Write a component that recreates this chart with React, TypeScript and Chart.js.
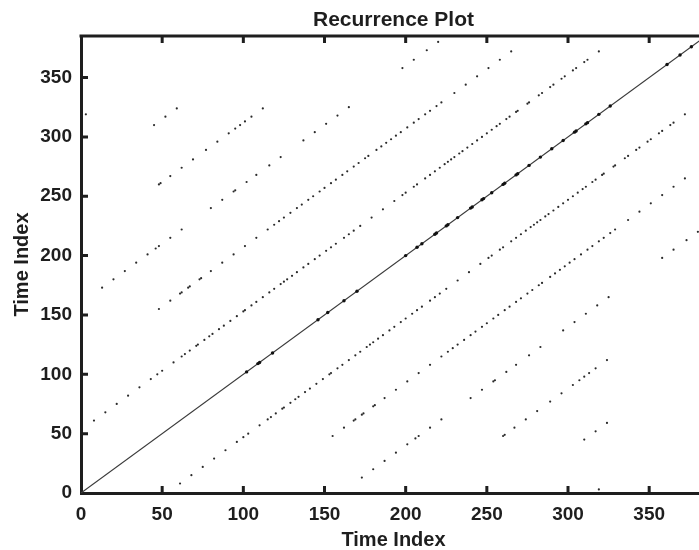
import React, { useEffect, useRef } from "react";
import { Chart, registerables } from "chart.js";

Chart.register(...registerables);

// ---- data ----
const TITLE = "Recurrence Plot";
const X_LABEL = "Time Index";
const Y_LABEL = "Time Index";
const X_TICKS = [0, 50, 100, 150, 200, 250, 300, 350];
const Y_TICKS = [0, 50, 100, 150, 200, 250, 300, 350];
const AXIS_MAX = 385;

// Lag (y - x) of each recurrence diagonal above the main one (the plot is symmetric)
const LAGS = [53, 107, 160, 212, 265, 316];

// Time indices (x) of recurrence points on each upper diagonal
const DIAG_53 = [8, 15, 22, 29, 36, 43, 47, 50, 57, 62, 64, 67, 71, 72, 76, 79, 81, 85, 88, 92, 96, 100, 101, 105, 108, 112, 116, 119, 123, 125, 127, 130, 133, 137, 140, 144, 147, 151, 154, 157, 162, 165, 168, 172, 179, 186, 193, 198, 200, 205, 207, 212, 215, 218, 221, 224, 226, 228, 230, 233, 235, 238, 241, 244, 247, 250, 253, 256, 258, 262, 264, 268, 269, 275, 276, 282, 284, 289, 291, 296, 298, 303, 305, 310, 312, 319];
const DIAG_107 = [48, 55, 61, 62, 66, 67, 73, 74, 80, 87, 94, 101, 108, 115, 119, 122, 125, 129, 133, 136, 140, 143, 147, 150, 154, 157, 161, 164, 168, 171, 175, 177, 182, 185, 188, 191, 194, 197, 201, 205, 208, 212, 215, 219, 222, 230, 237, 244, 251, 258, 265];
const DIAG_160 = [13, 20, 27, 34, 41, 46, 48, 55, 62, 80, 87, 94, 95, 102, 108, 116, 123, 137, 144, 151, 158, 165, 198, 205, 213, 220];
const DIAG_212 = [48, 49, 55, 62, 69, 77, 84, 91, 95, 98, 101, 105, 112];
const DIAG_265 = [45, 52, 59];
const DIAG_316 = [3];

// Recurrence points sitting on the main diagonal (drawn darker)
const MAIN_DOTS = [102, 109, 110, 118, 146, 152, 162, 170, 200, 207, 210, 218, 219, 225, 226, 232, 240, 241, 247, 248, 253, 260, 261, 268, 269, 276, 283, 290, 297, 304, 305, 311, 312, 319, 326, 361, 369, 376];

// Line of identity end points
const IDENTITY = [0, AXIS_MAX];

const DIAGS = [DIAG_53, DIAG_107, DIAG_160, DIAG_212, DIAG_265, DIAG_316];

const FONT = "'Liberation Sans', Arial, Helvetica, sans-serif";
const INK = "#1e1e1e";

const framePlugin = {
  id: "matlabFrame",
  afterDatasetsDraw(chart: any) {
    const { ctx, chartArea, scales } = chart;
    const { left, right, top, bottom } = chartArea;
    const xs = scales.x;
    const ys = scales.y;
    ctx.save();
    ctx.strokeStyle = INK;
    ctx.lineWidth = 3;
    ctx.beginPath();
    ctx.moveTo(left - 1.5, top);
    ctx.lineTo(right, top);
    ctx.stroke();
    ctx.lineWidth = 3;
    const len = 7;
    ctx.beginPath();
    X_TICKS.forEach((v) => {
      if (v === 0) return;
      const px = xs.getPixelForValue(v);
      ctx.moveTo(px, bottom);
      ctx.lineTo(px, bottom - len);
      ctx.moveTo(px, top);
      ctx.lineTo(px, top + len);
    });
    Y_TICKS.forEach((v) => {
      if (v === 0) return;
      const py = ys.getPixelForValue(v);
      ctx.moveTo(left, py);
      ctx.lineTo(left + len, py);
    });
    ctx.stroke();
    ctx.restore();
  },
};

export default function App() {
  const ref = useRef<HTMLCanvasElement>(null);

  useEffect(() => {
    const pts: { x: number; y: number }[] = [];
    DIAGS.forEach((list, i) => {
      const lag = LAGS[i];
      list.forEach((x) => {
        pts.push({ x, y: x + lag });
        pts.push({ x: x + lag, y: x });
      });
    });
    const mainPts = MAIN_DOTS.map((v) => ({ x: v, y: v }));
    const identity = IDENTITY.map((v) => ({ x: v, y: v }));

    const chart = new Chart(ref.current as HTMLCanvasElement, {
      type: "scatter",
      data: {
        datasets: [
          {
            type: "line",
            data: identity,
            borderColor: "#3a3a3a",
            borderWidth: 1.1,
            pointRadius: 0,
            fill: false,
            order: 3,
          } as any,
          {
            data: mainPts,
            backgroundColor: "#111",
            borderWidth: 0,
            pointRadius: 1.7,
            order: 2,
          },
          {
            data: pts,
            backgroundColor: "#2a2a2a",
            borderWidth: 0,
            pointRadius: 1.1,
            order: 1,
          },
        ],
      },
      options: {
        animation: false,
        responsive: false,
        devicePixelRatio: 1,
        layout: { padding: 0 },
        plugins: {
          legend: { display: false },
          tooltip: { enabled: false },
          title: {
            display: true,
            text: TITLE,
            fullSize: false,
            color: INK,
            font: { family: FONT, size: 21, weight: "bold", lineHeight: 1.2 },
            padding: { top: 8, bottom: 2.8 },
          },
        },
        scales: {
          x: {
            type: "linear",
            min: 0,
            max: AXIS_MAX,
            grid: { display: false, drawTicks: false },
            border: { display: true, width: 3, color: INK },
            afterBuildTicks: (s: any) => {
              s.ticks = X_TICKS.map((v) => ({ value: v }));
            },
            afterFit: (s: any) => {
              s.height = 57;
            },
            ticks: {
              padding: 10,
              color: INK,
              font: { family: FONT, size: 19, weight: "bold", lineHeight: 1.2 },
              maxRotation: 0,
            },
            title: {
              display: true,
              text: X_LABEL,
              color: INK,
              font: { family: FONT, size: 20, weight: "bold", lineHeight: 1 },
              padding: { top: 0, bottom: 0 },
            },
          },
          y: {
            type: "linear",
            min: 0,
            max: AXIS_MAX,
            grid: { display: false, drawTicks: false },
            border: { display: true, width: 3, color: INK },
            afterBuildTicks: (s: any) => {
              s.ticks = Y_TICKS.map((v) => ({ value: v }));
            },
            afterFit: (s: any) => {
              s.width = 81;
            },
            ticks: {
              padding: 9,
              color: INK,
              font: { family: FONT, size: 19, weight: "bold", lineHeight: 1.2 },
            },
            title: {
              display: true,
              text: Y_LABEL,
              color: INK,
              font: { family: FONT, size: 20, weight: "bold", lineHeight: 1.2 },
              padding: { top: 10, bottom: 0 },
            },
          },
        },
      },
      plugins: [framePlugin],
    });
    return () => chart.destroy();
  }, []);

  return (
    <div
      style={{
        position: "absolute",
        left: 0,
        top: 0,
        width: 699,
        height: 550,
        overflow: "hidden",
        background: "#fff",
      }}
    >
      <canvas ref={ref} width={710} height={550} style={{ display: "block", width: 710, height: 550 }} />
    </div>
  );
}
